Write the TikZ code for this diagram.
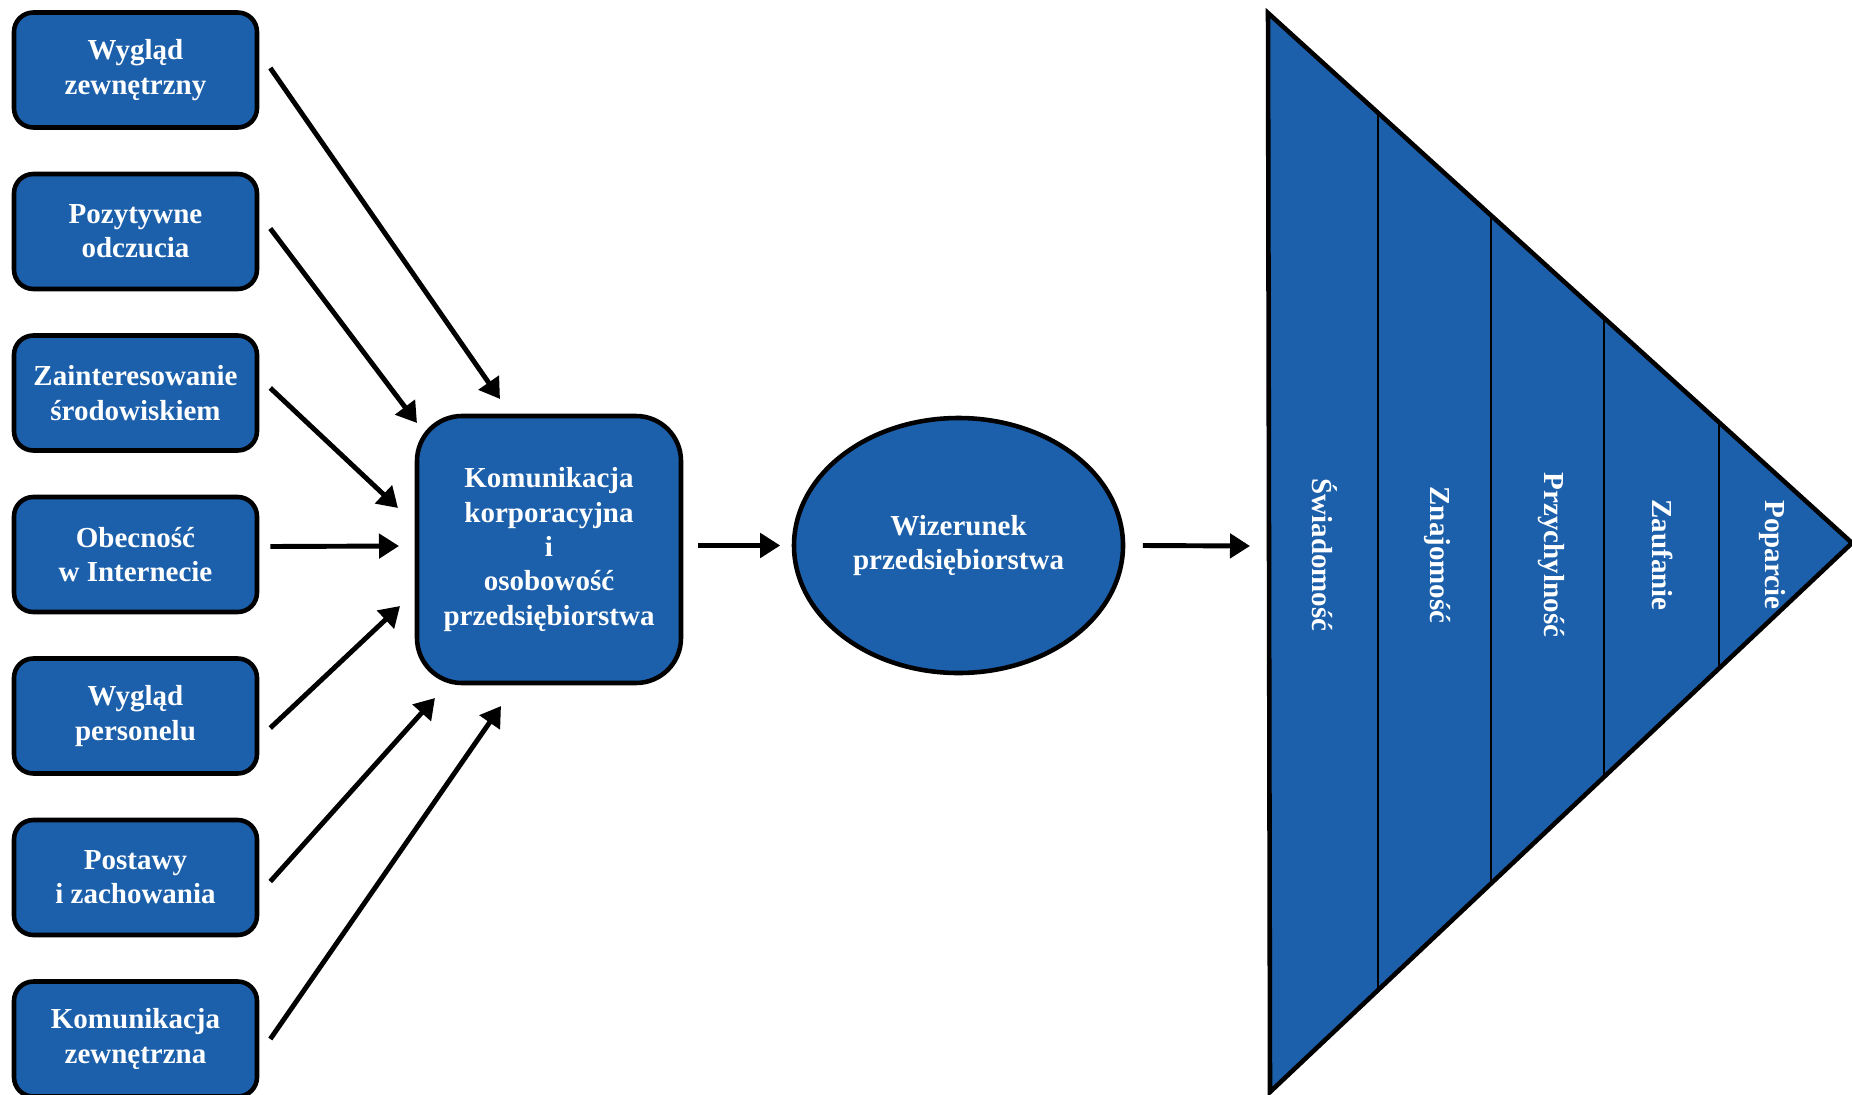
\documentclass[tikz,border=0pt]{standalone}
\usepackage{fontspec}
\setmainfont{Liberation Serif}
\usetikzlibrary{arrows.meta,positioning,shapes.geometric,calc}
\definecolor{corpblue}{RGB}{28,96,171}
\definecolor{ink}{RGB}{0,0,0}
\newcommand{\labfont}{\fontsize{16.5}{19.5}\selectfont\bfseries}
\tikzset{
  >={Triangle[length=4mm,width=4.8mm]},
  factor/.style={draw=ink,fill=corpblue,line width=2.6pt,rounded corners=11pt,
    minimum width=4.86cm,minimum height=2.3cm,align=center,text=white,font=\labfont},
  core/.style={draw=ink,fill=corpblue,line width=2.6pt,rounded corners=0.9cm,
    minimum width=5.28cm,minimum height=5.34cm,align=center,text=white,font=\labfont},
  image/.style={ellipse,draw=ink,fill=corpblue,line width=2.6pt,inner sep=1pt,
    minimum width=6.58cm,minimum height=5.1cm,align=center,text=white,font=\labfont},
  stage/.style={rotate=-90,text=white,font=\labfont},
  flow/.style={->,line width=2.8pt,draw=ink},
}

\begin{document}
\begin{tikzpicture}
  \useasboundingbox (0,0) rectangle (37.04,-21.88);
  % czynniki
  \foreach \i/\t in {
    1/Wygląd\\zewnętrzny,
    2/Pozytywne\\odczucia,
    3/Zainteresowanie\\środowiskiem,
    4/Obecność\\w Internecie,
    5/Wygląd\\personelu,
    6/Postawy\\i zachowania,
    7/Komunikacja\\zewnętrzna}
  {
    \node[factor] (f\i) at (2.71,{-1.40-3.23*(\i-1)}) {\t};
  }
  \node[core] (kom) at (10.98,-10.99) {Komunikacja\\korporacyjna\\i\\osobowość\\przedsiębiorstwa};
  \node[image] (wiz) at (19.17,-10.91) {Wizerunek\\przedsiębiorstwa};

  % piramida
  \coordinate (A) at (25.36,-0.26);
  \coordinate (P) at (37.04,-10.86);
  \coordinate (B) at (25.40,-21.84);
  \coordinate (tri) at (25.38,-10.92);
  \fill[corpblue] (A) -- (P) -- (B) -- cycle;
  \begin{scope}
    \clip (A) -- (P) -- (B) -- cycle;
    \foreach \x in {27.56,29.82,32.08,34.38}
      \draw[ink,line width=1.5pt] (\x,0) -- (\x,-22);
  \end{scope}
  \draw[ink,line width=2.6pt,line join=miter] (A) -- (P) -- (B) -- cycle;
  \foreach \x/\t [count=\k] in {26.5/Świadomość,28.74/Znajomość,31.02/Przychylność,
    33.26/Zaufanie,35.44/Poparcie}
    \node[stage] (s\k) at (\x,-11.1) {\t};

  % strzalki
  \foreach \i/\dy/\ex/\ey in {1/0.04/-0.98/3.01, 2/0.06/-2.64/2.53, 3/0.1/-3.02/0.83,
    4/0.16/-3.0/0.07, 5/-0.24/-2.98/-1.13, 6/-0.08/-2.28/-2.97, 7/0/-0.96/-3.13}
    \draw[flow] ([shift={(0.22,\dy)}]f\i.east) -- ([shift={(\ex,\ey)}]kom.center);
  \draw[flow] ([xshift=2.9mm]kom.east |- wiz.west) -- ([xshift=-2.3mm]wiz.west);
  \draw[flow] ([xshift=3.5mm]wiz.east) -- ([xshift=-3.8mm]tri);
\end{tikzpicture}
\end{document}
